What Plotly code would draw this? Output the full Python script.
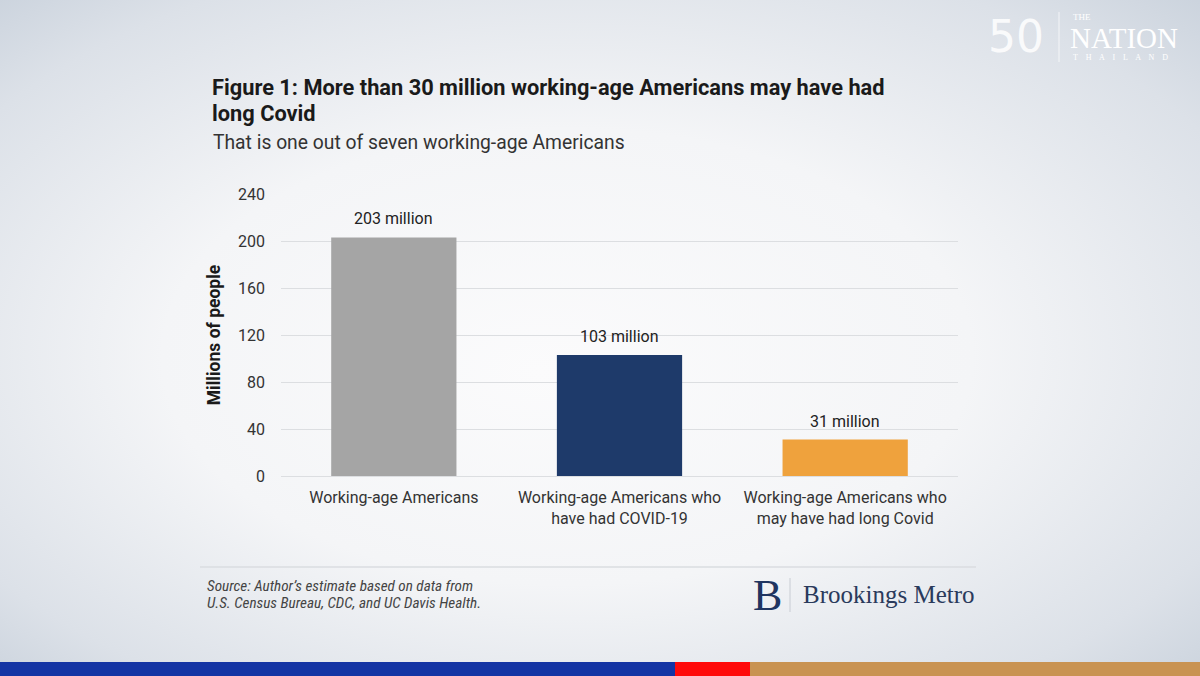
import base64
import plotly.graph_objects as go

categories = ["Working-age Americans",
              "Working-age Americans who<br>have had COVID-19",
              "Working-age Americans who<br>may have had long Covid"]
values = [203, 103, 31]
value_labels = ["203 million", "103 million", "31 million"]
bar_colors = ["#A5A5A5", "#1E3A6A", "#EFA23D"]
y_ticks = [0, 40, 80, 120, 160, 200, 240]

W, H = 1200, 676
L, R, T, B = 281, 958, 194, 476


def px(x):
    return (x - L) / (R - L)


def py(y):
    return (B - y) / (B - T)


svg = f'''<svg xmlns="http://www.w3.org/2000/svg" width="{W}" height="{H}">
<defs><radialGradient id="g" cx="0.5" cy="0.5" r="0.75" fx="0.45" fy="0.55">
<stop offset="0" stop-color="#FBFBFC"/>
<stop offset="0.45" stop-color="#F4F5F7"/>
<stop offset="0.8" stop-color="#DCE1E8"/>
<stop offset="1" stop-color="#C6CFDA"/>
</radialGradient></defs>
<rect width="{W}" height="{H}" fill="url(#g)"/></svg>'''
bg_uri = "data:image/svg+xml;base64," + base64.b64encode(svg.encode()).decode()

fig = go.Figure()
fig.add_trace(go.Bar(
    x=categories, y=values, marker=dict(color=bar_colors, line=dict(width=0)),
    width=0.555, hoverinfo="skip"))

FONT = "Roboto"
ann = []
for c, v, t in zip(categories, values, value_labels):
    ann.append(dict(x=c, y=v, xref="x", yref="y", xanchor="center", yanchor="bottom",
                    yshift=7, text=t, font=dict(family=FONT, size=16, color="#222222")))
ann.append(dict(x=px(210), y=py(87), xanchor="left", yanchor="middle",
                text="<b>Figure 1: More than 30 million working-age Americans may have had</b>",
                font=dict(family=FONT, size=21.8, color="#1A1A1A")))
ann.append(dict(x=px(210), y=py(113), xanchor="left", yanchor="middle",
                text="<b>long Covid</b>", font=dict(family=FONT, size=21.8, color="#1A1A1A")))
ann.append(dict(x=px(211), y=py(142), xanchor="left", yanchor="middle",
                text="That is one out of seven working-age Americans",
                font=dict(family=FONT, size=19.3, color="#333333")))
ann.append(dict(x=px(205), y=py(586), xanchor="left", yanchor="middle",
                text="<i>Source: Author’s estimate based on data from</i>",
                font=dict(family="Roboto Condensed, Roboto", size=15.2, color="#444444")))
ann.append(dict(x=px(205), y=py(603), xanchor="left", yanchor="middle",
                text="<i>U.S. Census Bureau, CDC, and UC Davis Health.</i>",
                font=dict(family="Roboto Condensed, Roboto", size=15.2, color="#444444")))
# Brookings Metro logo text
ann.append(dict(x=px(767), y=py(595), xanchor="center", yanchor="middle",
                text="B", font=dict(family="Liberation Serif", size=44, color="#1F3561")))
ann.append(dict(x=px(801), y=py(594), xanchor="left", yanchor="middle",
                text="Brookings Metro", font=dict(family="Liberation Serif", size=25, color="#2A3A5C")))
# The Nation logo
ann.append(dict(x=px(1016), y=py(36), xanchor="center", yanchor="middle",
                text="50", font=dict(family="DejaVu Sans", size=44, color="rgba(255,255,255,0.85)")))
ann.append(dict(x=px(1071), y=py(17), xanchor="left", yanchor="middle",
                text="THE", font=dict(family="Liberation Serif", size=9, color="white")))
ann.append(dict(x=px(1068), y=py(38), xanchor="left", yanchor="middle",
                text="NATION", font=dict(family="Liberation Serif", size=29, color="white")))
ann.append(dict(x=px(1071), y=py(57), xanchor="left", yanchor="middle",
                text="T    H    A    I    L    A    N    D",
                font=dict(family="Liberation Serif", size=8, color="white")))
for a in ann:
    a.setdefault("xref", "paper")
    a.setdefault("yref", "paper")
    a["showarrow"] = False

shapes = [
    dict(type="line", xref="paper", yref="paper", x0=px(200), x1=px(976), y0=py(567), y1=py(567),
         line=dict(color="#DADDE1", width=1.5)),
    dict(type="line", xref="paper", yref="paper", x0=px(790), x1=px(790), y0=py(578), y1=py(612),
         line=dict(color="#C8CCD3", width=1)),
    dict(type="line", xref="paper", yref="paper", x0=px(1059), x1=px(1059), y0=py(12), y1=py(62),
         line=dict(color="rgba(255,255,255,0.7)", width=1)),
    dict(type="rect", xref="paper", yref="paper", x0=px(0), x1=px(675), y0=py(662), y1=py(676),
         fillcolor="#1434A4", line=dict(width=0)),
    dict(type="rect", xref="paper", yref="paper", x0=px(675), x1=px(750), y0=py(662), y1=py(676),
         fillcolor="#FF0A0A", line=dict(width=0)),
    dict(type="rect", xref="paper", yref="paper", x0=px(750), x1=px(1200), y0=py(662), y1=py(676),
         fillcolor="#C99352", line=dict(width=0)),
]

fig.update_layout(
    width=W, height=H, margin=dict(l=L, r=W - R, t=T, b=H - B, pad=0),
    paper_bgcolor="#F3F4F6", plot_bgcolor="rgba(0,0,0,0)",
    showlegend=False, annotations=ann, shapes=shapes,
    images=[dict(source=bg_uri, xref="paper", yref="paper", x=px(0), y=py(0),
                 sizex=W / (R - L), sizey=H / (B - T), sizing="stretch",
                 xanchor="left", yanchor="top", layer="below")],
    xaxis=dict(showgrid=False, showline=False, ticks="",
               tickfont=dict(family=FONT, size=16, color="#333333"), ticklabelstandoff=10),
    yaxis=dict(range=[0, 240], tickvals=y_ticks, showgrid=True, gridcolor="#DCDEE1", gridwidth=1.2,
               zeroline=True, zerolinecolor="#DCDEE1", zerolinewidth=1.2, ticks="", ticklabelstandoff=15,
               tickfont=dict(family=FONT, size=16, color="#333333"),
               title=dict(text="<b>Millions of people</b>", standoff=12,
                          font=dict(family=FONT, size=17.5, color="#1A1A1A"))),
)

fig.write_html("out.html", config={"displayModeBar": False},
               post_script="document.body.style.margin='0';document.body.style.padding='0';")
